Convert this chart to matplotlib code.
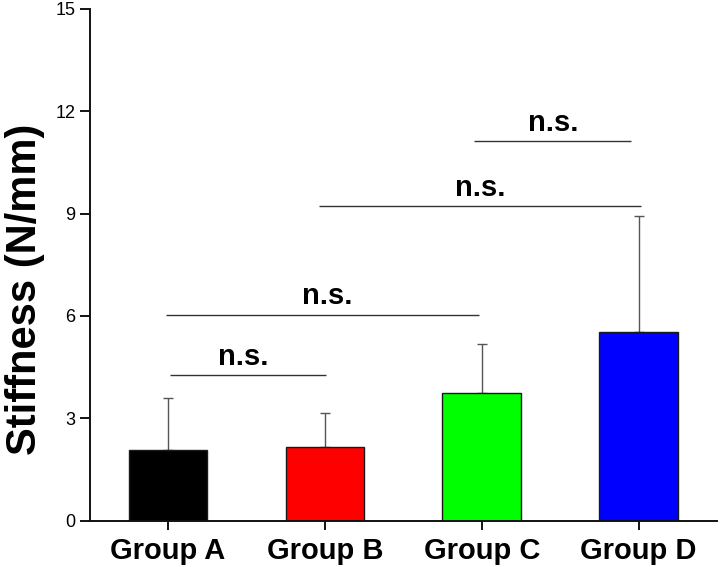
import matplotlib
matplotlib.use("Agg")
import matplotlib.pyplot as plt

groups = ["Group A", "Group B", "Group C", "Group D"]
means = [2.08, 2.15, 3.73, 5.54]
sds = [1.51, 1.01, 1.44, 3.39]
colors = ["#000000", "#FF0000", "#00FF00", "#0000FF"]

# significance annotations: (x start, x end, height, text x, label)
sig_x1 = [0.01, -0.01, 0.96, 1.95]
sig_x2 = [1.01, 1.98, 3.015, 2.95]
sig_y = [4.26, 6.03, 9.22, 11.12]
sig_tx = [0.48, 1.015, 1.99, 2.453]
sig_lab = ["n.s.", "n.s.", "n.s.", "n.s."]

yticks = [0, 3, 6, 9, 12, 15]

plt.rcParams['font.family'] = ['Liberation Sans', 'DejaVu Sans']

fig = plt.figure(figsize=(7.2, 5.67), dpi=100)
ax = fig.add_axes([89.5/720, 46.3/567, (717-89.5)/720, (520.7-8.7)/567])

x = list(range(len(groups)))
ax.bar(x, means, width=0.5, color=colors, edgecolor="#1a1a1a", linewidth=1.0, zorder=2)
ax.errorbar(x, means, yerr=[[0]*len(sds), sds], fmt="none", ecolor="#555555",
            elinewidth=1.0, capsize=3.6, capthick=1.0, zorder=1)

for x1, x2, y, tx, lab in zip(sig_x1, sig_x2, sig_y, sig_tx, sig_lab):
    ax.plot([x1, x2], [y, y], color="#333333", lw=1.0, solid_capstyle="butt")
    ax.annotate(lab, xy=(tx, y), xytext=(0, 7.5), textcoords="offset points",
                ha="center", va="baseline", fontsize=21, fontweight="bold")

ax.set_xlim(-0.5, 3.5)
ax.set_ylim(0, 15)
ax.set_yticks(yticks)
ax.set_yticklabels([str(t) for t in yticks], fontsize=13)
ax.set_xticks(x)
ax.set_xticklabels(groups, fontsize=21, fontweight="bold")
ax.set_ylabel("Stiffness (N/mm)", fontsize=30, fontweight="bold")
ax.yaxis.set_label_coords(-0.071, 0.4525)

for s in ["top", "right"]:
    ax.spines[s].set_visible(False)
for s in ["left", "bottom"]:
    ax.spines[s].set_linewidth(1.4)
    ax.spines[s].set_color("#111111")
ax.tick_params(axis="y", length=7, width=1.3, pad=3)
ax.tick_params(axis="x", length=6.5, width=1.3, pad=5)

fig.savefig("out.png", dpi=100)
